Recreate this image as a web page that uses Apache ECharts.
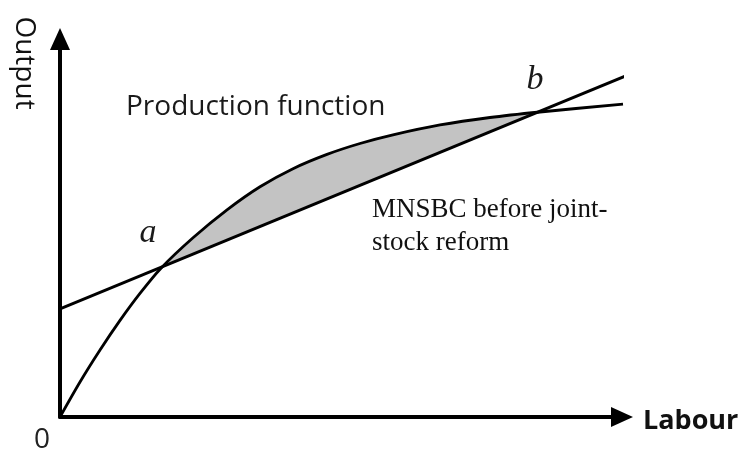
<!DOCTYPE html>
<html>
<head>
<meta charset="utf-8">
<script src="https://cdn.jsdelivr.net/npm/echarts@6/dist/echarts.min.js"></script>
<style>
  html, body { margin: 0; padding: 0; background: #fff; }
  #chart { width: 741px; height: 457px; }
</style>
</head>
<body>
<div id="chart"></div>
<script>
// Labour (x) and Output (y) in arbitrary units (axes span 0..100)
var productionLabour = [0, 3.56, 7.12, 10.68, 14.23, 17.97, 23.67, 29.72, 35.59, 41.46, 47.51, 53.38, 59.25, 67.62, 76.51, 85.41, 100.18];
var productionOutput = [0, 9.26, 17.72, 25.56, 32.70, 39.37, 47.41, 54.79, 60.90, 65.69, 69.47, 72.35, 74.63, 77.25, 79.23, 80.69, 82.78];
var mnsbcLabour = [0, 101.1];
var mnsbcOutput = [28.6, 90.5];
var pointA = 5;   // index of intersection a in production arrays
var pointB = 15;  // index of intersection b

var curveData = productionLabour.map(function (x, i) { return [x, productionOutput[i]]; });
var lineData = mnsbcLabour.map(function (x, i) { return [x, mnsbcOutput[i]]; });
var shadeData = curveData.slice(pointA, pointB + 1);

var chart = echarts.init(document.getElementById('chart'), null, { renderer: 'canvas' });

var axisCommon = {
  type: 'value', min: 0, max: 100,
  splitLine: { show: false }, axisTick: { show: false }, axisLabel: { show: false },
  axisLine: { show: true, symbol: ['none', 'triangle'], symbolSize: [20, 22],
    lineStyle: { color: '#000', width: 4 } }
};

var sans = '"Open Sans", sans-serif';
var serif = '"Liberation Serif", "DejaVu Serif", serif';

chart.setOption({
  animation: false,
  backgroundColor: '#fff',
  grid: { left: 60, right: 119, top: 39, bottom: 40, containLabel: false },
  xAxis: Object.assign({}, axisCommon),
  yAxis: Object.assign({}, axisCommon),
  series: [
    {
      type: 'custom', name: 'shade', silent: true, clip: false, z: 1,
      data: [0],
      renderItem: function (params, api) {
        var pts = shadeData.map(function (p) { return api.coord(p); });
        return { type: 'polygon', shape: { points: pts }, style: { fill: '#c3c3c3', stroke: null } };
      }
    },
    {
      type: 'line', name: 'Production function', data: curveData, smooth: 0.3,
      showSymbol: false, clip: false, z: 3,
      lineStyle: { color: '#000', width: 2.8 }
    },
    {
      type: 'line', name: 'MNSBC', data: lineData, showSymbol: false, clip: false, z: 3,
      lineStyle: { color: '#000', width: 2.8 }
    }
  ],
  graphic: [
    { type: 'text', x: 24, y: 63, rotation: -Math.PI / 2,
      style: { text: 'Output', font: '28px ' + sans, fill: '#111', align: 'center', verticalAlign: 'middle' } },
    { type: 'text', x: 643, y: 421,
      style: { text: 'Labour', font: 'bold 27px ' + sans, fill: '#111', align: 'left', verticalAlign: 'middle' } },
    { type: 'text', x: 42, y: 440,
      style: { text: '0', font: '28px ' + sans, fill: '#222', align: 'center', verticalAlign: 'middle' } },
    { type: 'text', x: 126, y: 107,
      style: { text: 'Production function', font: '28px ' + sans, fill: '#1a1a1a', align: 'left', verticalAlign: 'middle' } },
    { type: 'text', x: 372, y: 210,
      style: { text: 'MNSBC before joint-', font: '27px ' + serif, fill: '#111', align: 'left', verticalAlign: 'middle' } },
    { type: 'text', x: 372, y: 243,
      style: { text: 'stock reform', font: '27px ' + serif, fill: '#111', align: 'left', verticalAlign: 'middle' } },
    { type: 'text', x: 148, y: 233,
      style: { text: 'a', font: 'italic 34px ' + serif, fill: '#1a1a1a', align: 'center', verticalAlign: 'middle' } },
    { type: 'text', x: 535, y: 80,
      style: { text: 'b', font: 'italic 34px ' + serif, fill: '#1a1a1a', align: 'center', verticalAlign: 'middle' } }
  ]
});
</script>
</body>
</html>
